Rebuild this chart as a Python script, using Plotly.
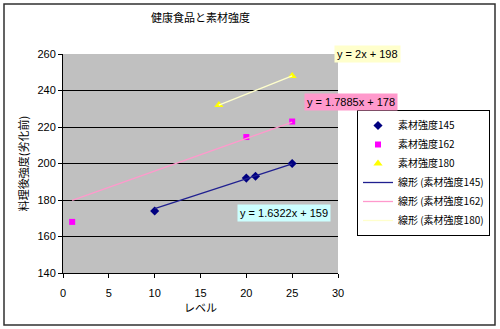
import plotly.graph_objects as go

# data
names = ["素材強度145", "素材強度162", "素材強度180"]
x145 = [10, 20, 21, 25]
y145 = [174, 192, 193, 200]
x162 = [1, 20, 25]
y162 = [168, 214.5, 223]
x180 = [17, 25]
y180 = [232, 248]
slopes = [1.6322, 1.7885, 2.0]
intercepts = [159, 178, 198]
eq_labels = ["y = 1.6322x + 159", "y = 1.7885x + 178", "y = 2x + 198"]
x_ticks = [0, 5, 10, 15, 20, 25, 30]
y_ticks = [140, 160, 180, 200, 220, 240, 260]

FONT = "Noto Sans CJK JP, Liberation Sans, sans-serif"

fig = go.Figure()
xs = [x145, x162, x180]
ys = [y145, y162, y180]
mcolors = ["#000080", "#FF00FF", "#FFFF00"]
msymbols = ["diamond", "square", "triangle-up"]
msizes = [7, 6, 8]
lcolors = ["#202090", "#FF99CC", "#FFFFCC"]

for i in range(3):
    fig.add_trace(go.Scatter(x=xs[i], y=ys[i], mode="markers", name=names[i],
                             marker=dict(color=mcolors[i], symbol=msymbols[i], size=msizes[i])))
for i in range(3):
    x0, x1 = min(xs[i]), max(xs[i])
    fig.add_trace(go.Scatter(x=[x0, x1], y=[slopes[i]*x0+intercepts[i], slopes[i]*x1+intercepts[i]],
                             mode="lines", name="線形 (" + names[i] + ")",
                             line=dict(color=lcolors[i], width=1.3)))

# plot area pixels
L, R, T, B = 63, 338, 54, 273
W, H = R - L, B - T
def px(x): return (x - L) / W
def py(y): return (B - y) / H

fig.update_layout(
    width=500, height=329,
    margin=dict(l=L, r=500 - R, t=T, b=329 - B, autoexpand=False),
    paper_bgcolor="white", plot_bgcolor="#C0C0C0",
    font=dict(family=FONT, size=11, color="black"),
    title=dict(text="健康食品と素材強度", x=0.5, xref="paper", xanchor="center",
               y=1 - 18/329, yanchor="middle", font=dict(size=11)),
    showlegend=True,
    legend=dict(x=px(357), y=py(110), xanchor="left", yanchor="top",
                bgcolor="white", bordercolor="black", borderwidth=1,
                font=dict(size=10), tracegroupgap=0, itemwidth=30),
    xaxis=dict(range=[0, 30], tickvals=x_ticks, showgrid=False, zeroline=False,
               showline=True, linecolor="black", linewidth=1, ticks="outside", ticklen=4,
               tickcolor="black", ticklabelstandoff=6,
               title=dict(text="レベル", font=dict(size=11), standoff=4),
               tickfont=dict(size=11, family="Liberation Sans, sans-serif")),
    yaxis=dict(range=[140, 260], tickvals=y_ticks, showgrid=True, gridcolor="black", gridwidth=1,
               zeroline=False, showline=True, linecolor="black", linewidth=1, ticks="outside",
               ticklen=4, tickcolor="black",
               title=dict(text="料理後強度(劣化前)", font=dict(size=11), standoff=6),
               tickfont=dict(size=11, family="Liberation Sans, sans-serif")),
)

# equation labels
eq_pos = [(237, 213, "#CCFFFF"), (304, 102, "#FF99CC"), (334, 54, "#FFFFCC")]
for (xp, yp, bg), txt in zip(eq_pos, eq_labels):
    fig.add_annotation(text=txt, xref="paper", yref="paper", x=px(xp), y=py(yp),
                       xanchor="left", yanchor="middle", showarrow=False,
                       bgcolor=bg, font=dict(size=11, family="Liberation Sans, sans-serif"),
                       borderpad=2)

# outer frame
fig.add_shape(type="rect", xref="paper", yref="paper", x0=px(4), x1=px(495), y0=py(325), y1=py(4),
              line=dict(color="#303030", width=1.5), layer="below")

fig.write_html("out.html")
